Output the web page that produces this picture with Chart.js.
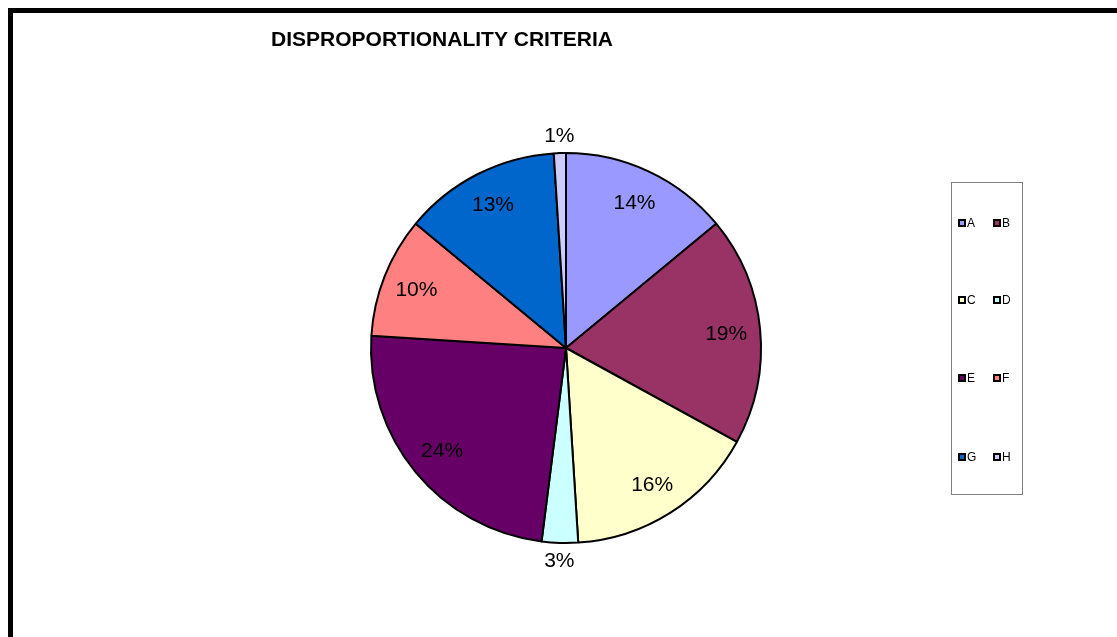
<!DOCTYPE html>
<html>
<head>
<meta charset="utf-8">
<script src="https://cdn.jsdelivr.net/npm/chart.js@4"></script>
<style>
  html, body { margin: 0; padding: 0; background: #fff; overflow: hidden; }
  #frame { position: absolute; left: 8px; top: 8px; width: 1200px; height: 700px; border: 5px solid #000; box-sizing: border-box; }
  #wrap { position: absolute; left: 0; top: 0; width: 1117px; height: 637px; }
</style>
</head>
<body>
<div id="frame"></div>
<div id="wrap"><canvas id="c" width="1117" height="637"></canvas></div>
<script>
const chartTitle = 'DISPROPORTIONALITY CRITERIA';
const categories = ['A', 'B', 'C', 'D', 'E', 'F', 'G', 'H'];
const values = [14, 19, 16, 3, 24, 10, 13, 1];
const sliceColors = ['#9999FF', '#993366', '#FFFFCC', '#CCFFFF', '#660066', '#FF8080', '#0066CC', '#CCCCFF'];

const FONT = '"Liberation Sans", Arial, Helvetica, sans-serif';

const decor = {
  id: 'decor',
  afterDraw(chart) {
    const ctx = chart.ctx;
    const meta = chart.getDatasetMeta(0);
    const ds = chart.data.datasets[0];
    const total = ds.data.reduce((a, b) => a + b, 0);
    ctx.save();
    // Title
    ctx.fillStyle = '#000';
    ctx.font = 'bold 21px ' + FONT;
    ctx.textAlign = 'center';
    ctx.textBaseline = 'alphabetic';
    ctx.fillText(chartTitle, 442, 46);

    // Slice labels
    ctx.font = '21px ' + FONT;
    ctx.textBaseline = 'middle';
    meta.data.forEach((arc, i) => {
      const p = arc.getProps(['x', 'y', 'startAngle', 'endAngle', 'outerRadius']);
      const mid = (p.startAngle + p.endAngle) / 2;
      const pct = ds.data[i] / total * 100;
      const r = pct < 5 ? p.outerRadius * 1.09 : p.outerRadius * 0.825;
      const lx = p.x + Math.cos(mid) * r;
      const ly = p.y + Math.sin(mid) * r;
      ctx.fillText(Math.round(pct) + '%', lx, ly + 1);
    });

    // Legend box
    ctx.strokeStyle = '#808080';
    ctx.lineWidth = 1;
    ctx.strokeRect(951.5, 182.5, 71, 312);
    ctx.font = '12px ' + FONT;
    ctx.textAlign = 'left';
    const rowY = [223, 300, 378, 457];
    const colX = [958, 993];
    chart.data.labels.forEach((lab, i) => {
      const x = colX[i % 2];
      const y = rowY[Math.floor(i / 2)];
      ctx.fillStyle = '#000';
      ctx.fillRect(x, y - 4, 8, 8);
      ctx.fillStyle = ds.backgroundColor[i];
      ctx.fillRect(x + 2, y - 2, 4, 4);
      ctx.fillStyle = '#000';
      ctx.fillText(lab, x + 9, y + 1);
    });
    ctx.restore();
  }
};

new Chart(document.getElementById('c'), {
  type: 'pie',
  data: {
    labels: categories,
    datasets: [{
      data: values,
      backgroundColor: sliceColors,
      borderColor: '#000',
      borderWidth: 2
    }]
  },
  options: {
    responsive: false,
    animation: false,
    devicePixelRatio: 1,
    radius: 195,
    layout: { padding: { left: 215, right: 200, top: 119, bottom: 60 } },
    plugins: {
      legend: { display: false },
      title: { display: false },
      tooltip: { enabled: false }
    }
  },
  plugins: [decor]
});
</script>
</body>
</html>
